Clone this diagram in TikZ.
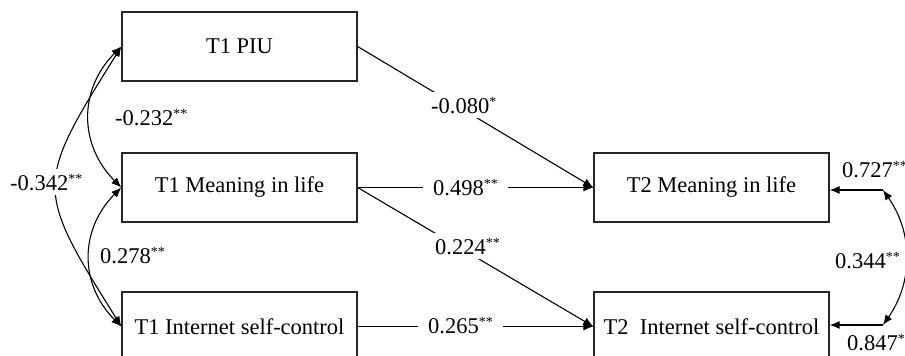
\documentclass[tikz,border=0pt]{standalone}
\usepackage{fontspec}
\setmainfont{Liberation Serif}
\usetikzlibrary{arrows.meta}
\newcommand\sigstar[1]{\raisebox{6.5pt}{\fontsize{14}{14}\selectfont #1}}
\begin{document}
\begin{tikzpicture}[x=1pt,y=-1pt, font=\fontsize{22.5}{27}\selectfont,
  varbox/.style={draw=black!85, line width=1.3pt, minimum width=235pt, minimum height=69pt, inner sep=0pt},
  conn/.style={line width=1.1pt, -{Latex[length=10pt,width=8pt]}},
  cov/.style={line width=1.1pt, {Latex[length=10pt,width=8pt]}-{Latex[length=10pt,width=8pt]}},
  coef/.style={anchor=base west, inner sep=0pt},
  coefw/.style={anchor=base west, fill=white, inner xsep=10pt, inner ysep=5pt},
]
\useasboundingbox (0,0) rectangle (905,356);
\clip (0,0) rectangle (905,356);

% boxes
\node[varbox] (piu) at (239.5,46.5) {T1 PIU};
\node[varbox] (t1m) at (239.5,187.5) {T1 Meaning in life};
\node[varbox] (t1i) at (239.5,326.5) {T1 Internet self-control};
\node[varbox] (t2m) at (711.5,187.5) {T2 Meaning in life};
\node[varbox] (t2i) at (711.5,326.5) {T2~ Internet self-control};

% residual points
\coordinate (e1) at (883,190);
\coordinate (e2) at (883,325);

% paths
\draw[conn] (piu.east) -- (t2m.west);
\draw[conn] (t1m.east) -- (t2m.west);
\draw[conn] (t1m.east) -- (t2i.west);
\draw[conn] (t1i.east) -- (t2i.west);

% covariances left
\draw[cov] (piu.west) to[out=225,in=135,looseness=1.1] (t1m.west);
\draw[cov] (t1m.west) to[out=225,in=135,looseness=1.1] (t1i.west);
\draw[cov] (piu.west) to[out=238,in=122,looseness=1.5] (t1i.west);

% residuals right
\draw[conn] (e1) -- (e1 -| t2m.east);
\draw[conn] (e2) -- (e2 -| t2i.east);
\draw[cov] (e1) to[out=-55,in=55,looseness=1] (e2);

% coefficient labels
\node[coefw] (c1) at (421,113) {-0.080\sigstar{*}};
\node[coefw] (c2) at (423,195) {0.498\sigstar{**}};
\node[coefw] (c3) at (425,254) {0.224\sigstar{**}};
\node[coefw] (c4) at (418,333) {0.265\sigstar{**}};
\node[coefw] (c5) at (0,190) {-0.342\sigstar{**}};
\node[coef] (c6) at (115,125) {-0.232\sigstar{**}};
\node[coef] (c7) at (100,263) {0.278\sigstar{**}};
\node[coef] (c8) at (842,177) {0.727\sigstar{**}};
\node[coef] (c9) at (835,268) {0.344\sigstar{**}};
\node[coef] (c10) at (847,350) {0.847\sigstar{*}};
\end{tikzpicture}
\end{document}
